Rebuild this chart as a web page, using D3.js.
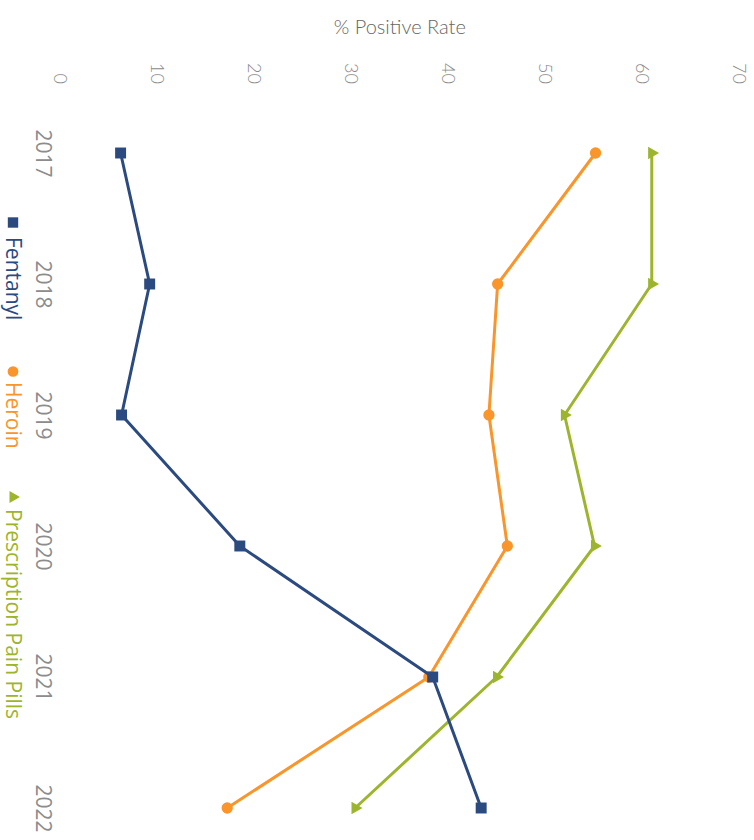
<!DOCTYPE html>
<html>
<head>
<meta charset="utf-8">
<script src="https://cdn.jsdelivr.net/npm/d3@7"></script>
<style>
  html, body { margin: 0; padding: 0; background: #fff; }
  svg { display: block; }
</style>
</head>
<body>
<svg id="chart" width="754" height="840"></svg>
<script>
// ---- data ----
const years = ["2017", "2018", "2019", "2020", "2021", "2022"];
const fentanyl = [6.2, 9.2, 6.3, 18.5, 38.4, 43.4];
const heroin = [55.2, 45.1, 44.2, 46.1, 38.0, 17.2];
const painPills = [61.0, 61.0, 52.0, 55.1, 45.0, 30.4];
const yTicks = [0, 10, 20, 30, 40, 50, 60, 70];
const seriesNames = ["Fentanyl", "Heroin", "Prescription Pain Pills"];
const yTitle = "% Positive Rate";

const series = [
  { name: seriesNames[0], values: fentanyl, color: "#2B4A80", symbol: d3.symbolSquare, size: 120 },
  { name: seriesNames[1], values: heroin, color: "#F9952A", symbol: d3.symbolCircle, size: 100 },
  { name: seriesNames[2], values: painPills, color: "#9DB52C", symbol: d3.symbolTriangle, size: 70 }
];

const W = 754, H = 840;
const svg = d3.select("#chart");
// chart drawn in an 840x754 frame, then rotated 90° clockwise
const g = svg.append("g").attr("transform", `translate(${W},0) rotate(90)`);

const x = d3.scalePoint().domain(years).range([153, 808]);
const y = d3.scaleLinear().domain([0, 70]).range([693.5, 15]);

// y axis (value)
const yAxis = g.append("g")
  .attr("transform", "translate(93,0)")
  .call(d3.axisLeft(y).tickValues(yTicks).tickSize(0).tickPadding(9));
yAxis.select(".domain").remove();
yAxis.selectAll("text")
  .attr("font-family", "Lato, 'Open Sans', sans-serif")
  .attr("font-weight", 300)
  .attr("font-size", 18)
  .attr("fill", "#8a8a8a");

// x axis (years)
const xAxis = g.append("g")
  .attr("transform", "translate(0,693.5)")
  .call(d3.axisBottom(x).tickSize(0).tickPadding(9.5));
xAxis.select(".domain").remove();
xAxis.selectAll("text")
  .attr("font-family", "'Open Sans', sans-serif")
  .attr("font-size", 21)
  .attr("fill", "#8c8c8c");

// axis title
g.append("text")
  .attr("transform", `translate(34,${y(35) + 0}) rotate(-90)`)
  .attr("text-anchor", "middle")
  .attr("font-family", "Lato, 'Open Sans', sans-serif")
  .attr("font-weight", 300)
  .attr("font-size", 20)
  .attr("fill", "#666")
  .text(yTitle);

// lines & markers (reverse so Fentanyl is on top)
const line = d3.line().x((d, i) => x(years[i])).y(d => y(d));
series.slice().reverse().forEach(s => {
  g.append("path")
    .attr("d", line(s.values))
    .attr("fill", "none")
    .attr("stroke", s.color)
    .attr("stroke-width", 3)
    .attr("stroke-linejoin", "round");
  g.selectAll(null)
    .data(s.values)
    .enter().append("path")
    .attr("transform", (d, i) => `translate(${x(years[i])},${y(d)})`)
    .attr("d", d3.symbol().type(s.symbol).size(s.size))
    .attr("fill", s.color);
});

// legend
const legendY = 741;
const legendPos = [
  { mx: 222.5, tx: 237 },
  { mx: 371.5, tx: 382 },
  { mx: 497, tx: 509 }
];
series.forEach((s, i) => {
  const lg = g.append("g");
  lg.append("path")
    .attr("transform", `translate(${legendPos[i].mx},${legendY})`)
    .attr("d", d3.symbol().type(s.symbol).size(s.size * 0.9))
    .attr("fill", s.color);
  lg.append("text")
    .attr("x", legendPos[i].tx)
    .attr("y", legendY + 7)
    .attr("font-family", "'Open Sans', sans-serif")
    .attr("font-size", 21)
    .attr("fill", s.color)
    .text(s.name);
});
</script>
</body>
</html>
